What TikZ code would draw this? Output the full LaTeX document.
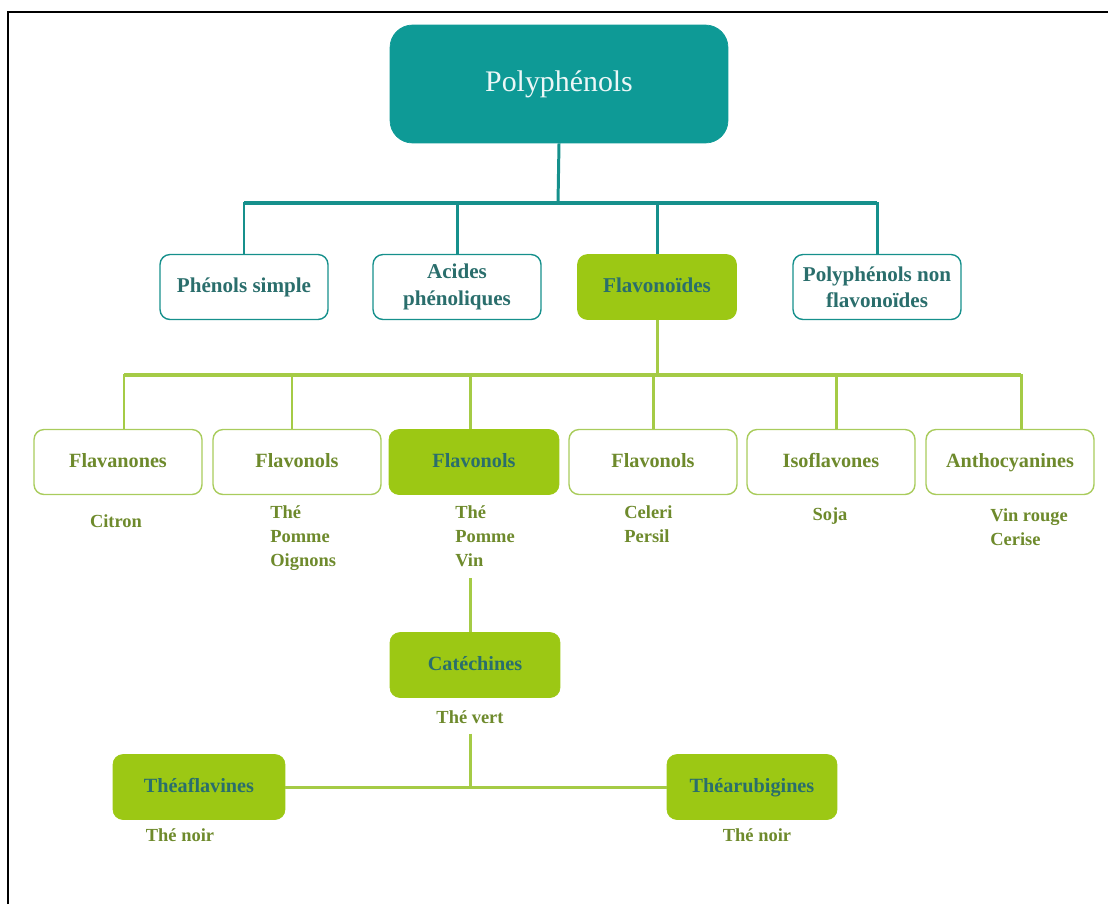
\documentclass[tikz,border=0pt]{standalone}
\usepackage{fontspec}
\setmainfont{Liberation Serif}
\usepackage{tikz}
\usepackage{xcolor}
\usetikzlibrary{positioning}
\definecolor{Teal}{HTML}{0E9A96}
\definecolor{TealLine}{HTML}{16908C}
\definecolor{TealText}{HTML}{2A6E6C}
\definecolor{Lime}{HTML}{9CC814}
\definecolor{LimeLine}{HTML}{A9CC5C}
\definecolor{Olive}{HTML}{6E8A2C}

\begin{document}
\begin{tikzpicture}[x=0.02cm,y=-0.02cm,
  rootbox/.style={fill=Teal,draw=Teal,rounded corners=0.45cm,minimum width=6.76cm,minimum height=2.36cm,
    text=white!92!Teal,font=\fontsize{17}{20}\selectfont},
  tealbox/.style={draw=TealLine,line width=0.8pt,fill=white,rounded corners=0.2cm,minimum width=3.36cm,minimum height=1.3cm,
    align=center,text=TealText,font=\bfseries\fontsize{12}{15}\selectfont},
  limebox/.style={draw=LimeLine,line width=0.8pt,fill=white,rounded corners=0.2cm,minimum width=3.36cm,minimum height=1.3cm,
    text height=1.7ex,text depth=0.3ex,text=Olive,font=\bfseries\fontsize{11.5}{14}\selectfont},
  fullbox/.style={fill=Lime,draw=Lime,rounded corners=0.2cm,minimum width=3.4cm,minimum height=1.3cm,
    text height=1.7ex,text depth=0.3ex,text=TealText,font=\bfseries\fontsize{11.5}{14}\selectfont},
  source/.style={text=Olive,align=left,inner sep=0pt,font=\bfseries\fontsize{10.5}{13.6}\selectfont},
  tealwire/.style={draw=TealLine,line width=1.7pt},
  limewire/.style={draw=LimeLine!70!Lime,line width=1.7pt}]
  \useasboundingbox (0,0) rectangle (1108,904);
  \draw[line width=1.6pt] (8,904) -- (8,12) -- (1108,12);

  % top level
  \node[rootbox] (poly) at (559,84) {Polyphénols};
  \node[tealbox] (simple) at (244,287) {Phénols simple};
  \node[tealbox] (acides) at (457,287) {Acides\\phénoliques};
  \node[fullbox,font=\bfseries\fontsize{12}{15}\selectfont,minimum width=3.18cm] (flavo) at (657,287) {Flavonoïdes};
  \node[tealbox] (nonflavo) at (877,287) {Polyphénols non\\flavonoïdes};
  \coordinate (busa) at (558,203);
  \draw[tealwire] (poly.south) -- (busa);
  \foreach \n in {simple,acides,flavo,nonflavo}
    \draw[tealwire] (busa) -| (\n.north);
  \draw[draw=TealLine,line width=2.6pt] (simple.north |- busa) -- (nonflavo.north |- busa);

  % flavonoid classes
  \node[limebox] (fnone) at (118,462) {Flavanones};
  \node[limebox] (fnol1) at (297,462) {Flavonols};
  \node[fullbox] (fnol2) at (474,462) {Flavonols};
  \node[limebox] (fnol3) at (653,462) {Flavonols};
  \node[limebox] (iso) at (831,462) {Isoflavones};
  \node[limebox] (antho) at (1010,462) {Anthocyanines};
  \coordinate (busb) at (657,375);
  \draw[limewire] (flavo.south) -- (busb);
  \draw[limewire] (busb) -| ([xshift=0.12cm]fnone.north);
  \draw[limewire] (busb) -| ([xshift=-0.1cm]fnol1.north);
  \draw[limewire] (busb) -| ([xshift=-0.08cm]fnol2.north);
  \draw[limewire] (busb) -| (fnol3.north);
  \draw[limewire] (busb) -| ([xshift=0.1cm]iso.north);
  \draw[limewire] (busb) -| ([xshift=0.22cm]antho.north);
  \draw[draw=LimeLine!70!Lime,line width=2.8pt] (124,375) -- (1021,375);

  % sources (anchored on the last line)
  \node[source,anchor=base] (citron) at (116,527) {Citron};
  \node[source,anchor=base west] (src1) at (270,566) {Thé\\Pomme\\Oignons};
  \node[source,anchor=base west] (src2) at (455,566) {Thé\\Pomme\\Vin};
  \node[source,anchor=base west] (src3) at (624,542) {Celeri\\Persil};
  \node[source,anchor=base] (soja) at (830,520) {Soja};
  \node[source,anchor=base west] (src4) at (990,545) {Vin rouge\\Cerise};

  % catechins
  \node[fullbox] (cat) at (475,665) {Catéchines};
  \coordinate (catin) at (470,578);
  \draw[limewire] (catin) -- (cat.north -| catin);
  \node[source,anchor=base] (vert) at (470,723) {Thé vert};
  \node[fullbox,minimum width=3.44cm] (theaf) at (199,787) {Théaflavines};
  \node[fullbox] (thear) at (752,787) {Théarubigines};
  \coordinate (teabus) at (470,787);
  \draw[limewire] ([yshift=-0.2cm]vert.south) -- (teabus);
  \draw[limewire] (theaf.east) -- (thear.west);
  \node[source,anchor=base] (noir1) at (180,841) {Thé noir};
  \node[source,anchor=base] (noir2) at (757,841) {Thé noir};
\end{tikzpicture}
\end{document}
